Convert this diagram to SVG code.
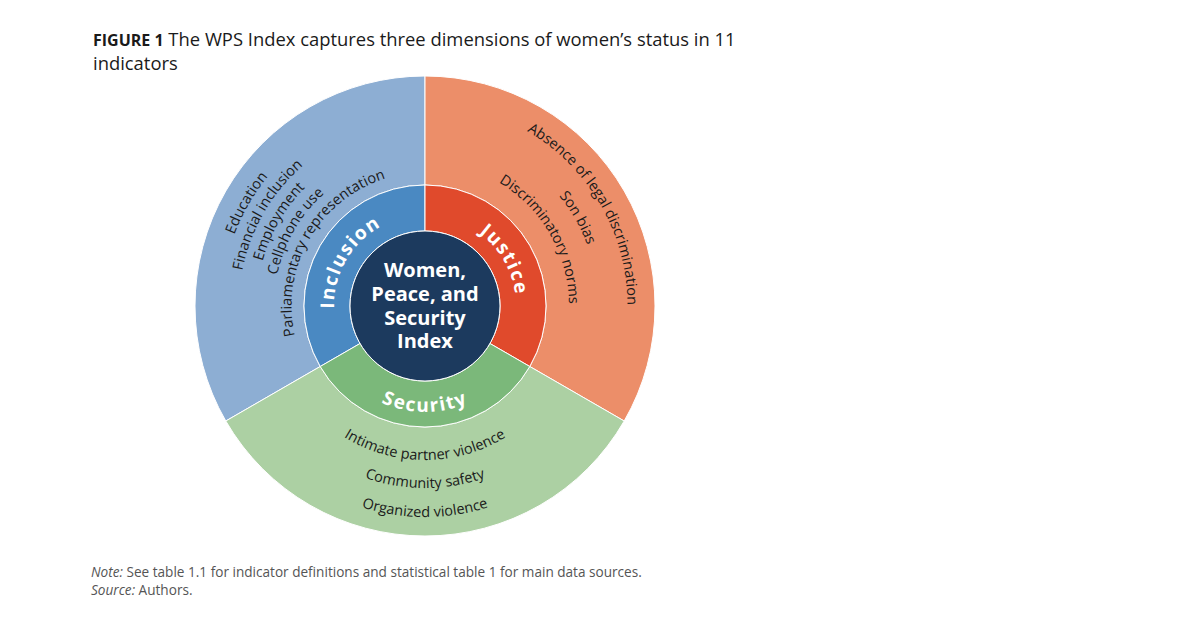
<svg xmlns="http://www.w3.org/2000/svg" width="1200" height="622" viewBox="0 0 1200 622">
  <style>
    .seg { stroke: #ffffff; stroke-width: 1; stroke-linejoin: round; }
    .lbl { font-family: "Open Sans", "Liberation Sans", sans-serif; font-size: 14.5px; fill: #1a1a1a; }
    .dim { font-family: "Open Sans", "Liberation Sans", sans-serif; font-size: 19px; font-weight: bold; fill: #ffffff; letter-spacing: 1.6px; }
    .ctr { font-family: "Open Sans", "Liberation Sans", sans-serif; font-size: 20px; font-weight: bold; fill: #ffffff; }
    .title { font-family: "Open Sans", "Liberation Sans", sans-serif; font-size: 18.4px; fill: #1a1a1a; }
    .fig { font-size: 16px; font-weight: bold; }
    .note { font-family: "Open Sans", "Liberation Sans", sans-serif; font-size: 13.6px; fill: #555555; }
  </style>
  <defs>
    <path id="pInc1" d="M 248.77 407.75 A 203.5 203.5 0 0 1 425 102.5"/>
    <path id="pInc2" d="M 263.92 399 A 186 186 0 0 1 425 120"/>
    <path id="pInc3" d="M 279.08 390.25 A 168.5 168.5 0 0 1 425 137.5"/>
    <path id="pInc4" d="M 294.23 381.5 A 151 151 0 0 1 425 155"/>
    <path id="pInc5" d="M 309.39 372.75 A 133.5 133.5 0 0 1 425 172.5"/>
    <path id="pJus1" d="M 425 103.5 A 202.5 202.5 0 0 1 600.37 407.25"/>
    <path id="pJus2" d="M 425 132.5 A 173.5 173.5 0 0 1 575.25 392.75"/>
    <path id="pJus3" d="M 425 162 A 144 144 0 0 1 549.71 378"/>
    <path id="pSec1" d="M 291.63 383 A 154 154 0 0 0 558.37 383"/>
    <path id="pSec2" d="M 267.38 397 A 182 182 0 0 0 582.62 397"/>
    <path id="pSec3" d="M 242.27 411.5 A 211 211 0 0 0 607.73 411.5"/>
    <path id="pIncM" d="M 346.19 351.5 A 91 91 0 0 1 425 215"/>
    <path id="pJusM" d="M 425 215 A 91 91 0 0 1 503.81 351.5"/>
    <path id="pSecM" d="M 333.2 359 A 106 106 0 0 0 516.8 359"/>
  </defs>

  <rect width="1200" height="622" fill="#ffffff"/>

  <g id="title">
    <text class="title" x="93" y="46"><tspan class="fig">FIGURE 1</tspan> The WPS Index captures three dimensions of women’s status in 11</text>
    <text class="title" x="93" y="70">indicators</text>
  </g>

  <g id="inclusion">
    <path class="seg" fill="#8daed3" d="M 425 76 A 230 230 0 0 0 225.81 421 L 320.21 366.5 A 121 121 0 0 1 425 185 Z"/>
    <path class="seg" fill="#4a89c2" d="M 425 185 A 121 121 0 0 0 320.21 366.5 L 360.05 343.5 A 75 75 0 0 1 425 231 Z"/>
    <text class="dim"><textPath href="#pIncM" startOffset="50%" text-anchor="middle">Inclusion</textPath></text>
    <text class="lbl"><textPath href="#pInc1" startOffset="50%" text-anchor="middle">Education</textPath></text>
    <text class="lbl"><textPath href="#pInc2" startOffset="50%" text-anchor="middle">Financial inclusion</textPath></text>
    <text class="lbl"><textPath href="#pInc3" startOffset="50%" text-anchor="middle">Employment</textPath></text>
    <text class="lbl"><textPath href="#pInc4" startOffset="50%" text-anchor="middle">Cellphone use</textPath></text>
    <text class="lbl"><textPath href="#pInc5" startOffset="50%" text-anchor="middle">Parliamentary representation</textPath></text>
  </g>

  <g id="justice">
    <path class="seg" fill="#ec8e69" d="M 425 76 A 230 230 0 0 1 624.19 421 L 529.79 366.5 A 121 121 0 0 0 425 185 Z"/>
    <path class="seg" fill="#e04a2c" d="M 425 185 A 121 121 0 0 1 529.79 366.5 L 489.95 343.5 A 75 75 0 0 0 425 231 Z"/>
    <text class="dim"><textPath href="#pJusM" startOffset="50%" text-anchor="middle">Justice</textPath></text>
    <text class="lbl"><textPath href="#pJus1" startOffset="50%" text-anchor="middle">Absence of legal discrimination</textPath></text>
    <text class="lbl"><textPath href="#pJus2" startOffset="50%" text-anchor="middle">Son bias</textPath></text>
    <text class="lbl"><textPath href="#pJus3" startOffset="50%" text-anchor="middle">Discriminatory norms</textPath></text>
  </g>

  <g id="security">
    <path class="seg" fill="#acd0a3" d="M 225.81 421 A 230 230 0 0 0 624.19 421 L 529.79 366.5 A 121 121 0 0 1 320.21 366.5 Z"/>
    <path class="seg" fill="#7bb87a" d="M 320.21 366.5 A 121 121 0 0 0 529.79 366.5 L 489.95 343.5 A 75 75 0 0 1 360.05 343.5 Z"/>
    <text class="dim"><textPath href="#pSecM" startOffset="50%" text-anchor="middle">Security</textPath></text>
    <text class="lbl"><textPath href="#pSec1" startOffset="50%" text-anchor="middle">Intimate partner violence</textPath></text>
    <text class="lbl"><textPath href="#pSec2" startOffset="50%" text-anchor="middle">Community safety</textPath></text>
    <text class="lbl"><textPath href="#pSec3" startOffset="50%" text-anchor="middle">Organized violence</textPath></text>
  </g>

  <g id="wps-index">
    <circle cx="425" cy="306" r="75" fill="#1c3a5e" stroke="#ffffff" stroke-width="1"/>
    <text class="ctr" x="425" y="277" text-anchor="middle">Women,</text>
    <text class="ctr" x="425" y="301" text-anchor="middle">Peace, and</text>
    <text class="ctr" x="425" y="324.5" text-anchor="middle">Security</text>
    <text class="ctr" x="425" y="348" text-anchor="middle">Index</text>
  </g>

  <g id="notes">
    <text class="note" x="91" y="577"><tspan font-style="italic">Note:</tspan> See table 1.1 for indicator definitions and statistical table 1 for main data sources.</text>
    <text class="note" x="91" y="595"><tspan font-style="italic">Source:</tspan> Authors.</text>
  </g>
</svg>
